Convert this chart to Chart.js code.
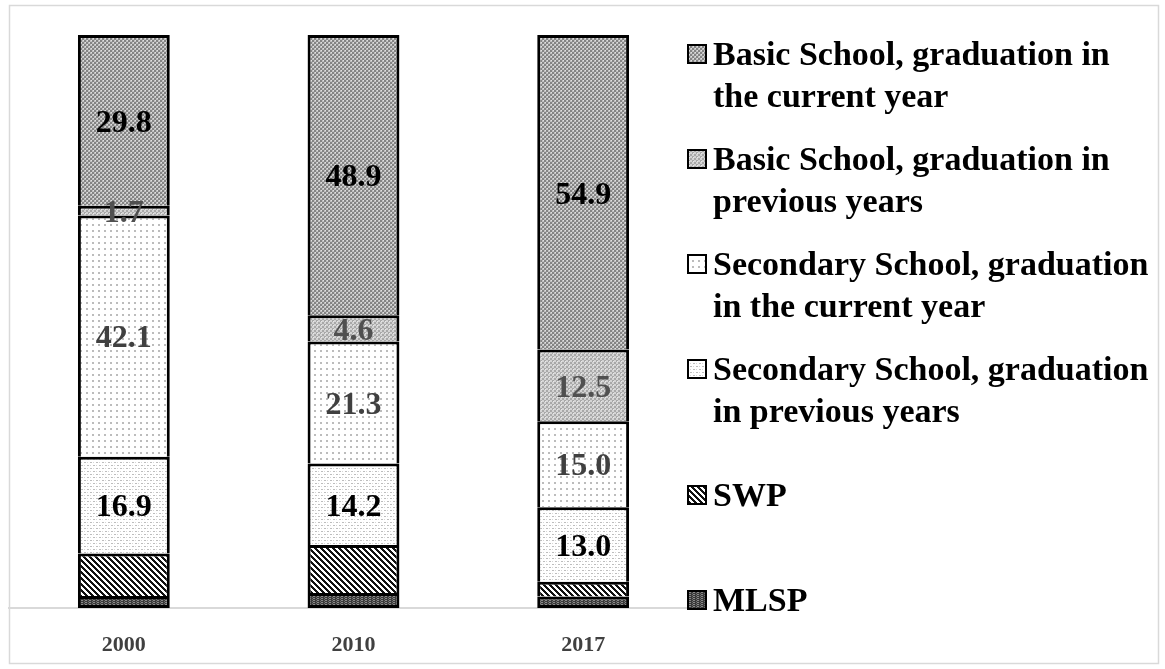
<!DOCTYPE html>
<html>
<head>
<meta charset="utf-8">
<script src="https://cdn.jsdelivr.net/npm/chart.js@4"></script>
<style>
  html, body { margin: 0; padding: 0; background: #fff; }
  #wrap { position: relative; width: 1165px; height: 669px; }
</style>
</head>
<body>
<div id="wrap"><canvas id="c"></canvas></div>
<script>
// ---- data ----
const years = ["2000", "2010", "2017"];
const mlsp = [2.1, 2.6, 2.0];
const swp = [7.4, 8.4, 2.6];
const secondaryPrev = [16.9, 14.2, 13.0];
const secondaryCurrent = [42.1, 21.3, 15.0];
const basicPrev = [1.7, 4.6, 12.5];
const basicCurrent = [29.8, 48.9, 54.9];
const seriesNames = [
  "MLSP",
  "SWP",
  "Secondary School, graduation in previous years",
  "Secondary School, graduation in the current year",
  "Basic School, graduation in previous years",
  "Basic School, graduation in the current year"
];
const legendLines = [
  ["MLSP"],
  ["SWP"],
  ["Secondary School, graduation", "in previous years"],
  ["Secondary School, graduation", "in the current year"],
  ["Basic School, graduation in", "previous years"],
  ["Basic School, graduation in", "the current year"]
];
const showLabel = [false, false, true, true, true, true];
const labelColors = ["#000", "#000", "#000", "#404040", "#505050", "#000"];

// ---- patterns ----
function makePattern(size, painter) {
  const c = document.createElement("canvas");
  c.width = size; c.height = size;
  const g = c.getContext("2d");
  painter(g, size);
  return document.createElement("canvas").getContext("2d").createPattern(c, "repeat");
}
function px(g, x, y, col, w = 1, h = 1) { g.fillStyle = col; g.fillRect(x, y, w, h); }

const patMLSP = makePattern(4, (g) => {
  px(g, 0, 0, "#3a3a3a", 4, 4);
  px(g, 1, 0, "#8a8a8a", 2, 1); px(g, 1, 2, "#8a8a8a", 2, 1);
  px(g, 0, 1, "#6a6a6a"); px(g, 0, 3, "#6a6a6a");
});
const patSWP = makePattern(6, (g, s) => {
  px(g, 0, 0, "#fff", s, s);
  for (let y = 0; y < s; y++) for (let x = 0; x < s; x++) {
    if ((((x - y) % s) + s) % s < 3) px(g, x, y, "#111");
  }
});
const patSecPrev = makePattern(6, (g) => {
  px(g, 0, 0, "#fff", 6, 6);
  px(g, 0, 0, "#bdbdbd", 2, 1); px(g, 3, 3, "#bdbdbd", 2, 1);
  px(g, 0, 3, "#d6d6d6"); px(g, 3, 0, "#d6d6d6");
});
const patSecCur = makePattern(6, (g) => {
  px(g, 0, 0, "#fff", 6, 6);
  px(g, 2, 2, "#bcbcbc", 2, 2);
});
const patBasicPrev = makePattern(4, (g) => {
  px(g, 0, 0, "#d4d4d4", 4, 4);
  px(g, 0, 0, "#a8a8a8", 2, 2); px(g, 2, 2, "#a8a8a8", 2, 2);
  px(g, 1, 1, "#e8e8e8");
});
const patBasicCur = makePattern(4, (g) => {
  px(g, 0, 0, "#c0c0c0", 4, 4);
  px(g, 0, 0, "#848484", 2, 2); px(g, 2, 2, "#848484", 2, 2);
  px(g, 3, 0, "#e0e0e0"); px(g, 1, 2, "#e0e0e0");
});
const fills = [patMLSP, patSWP, patSecPrev, patSecCur, patBasicPrev, patBasicCur];
const seriesData = [mlsp, swp, secondaryPrev, secondaryCurrent, basicPrev, basicCurrent];

const SERIF = "'Liberation Serif', 'Times New Roman', serif";

// ---- plugins ----
const framePlugin = {
  id: "frame",
  beforeDraw(chart) {
    const ctx = chart.ctx;
    ctx.save();
    ctx.strokeStyle = "#d9d9d9";
    ctx.lineWidth = 1.5;
    ctx.strokeRect(9.5, 5.5, 1149, 658);
    ctx.restore();
  }
};

const labelPlugin = {
  id: "barLabels",
  afterDatasetsDraw(chart) {
    const ctx = chart.ctx;
    ctx.save();
    ctx.font = "bold 32px " + SERIF;
    ctx.textAlign = "center";
    ctx.textBaseline = "middle";
    chart.data.datasets.forEach((ds, di) => {
      if (!showLabel[di]) return;
      const meta = chart.getDatasetMeta(di);
      meta.data.forEach((bar, i) => {
        const v = ds.data[i];
        const p = bar.getProps(["x", "y", "base"], true);
        ctx.fillStyle = labelColors[di];
        ctx.fillText(v.toFixed(1), p.x, (p.y + p.base) / 2 + 3);
      });
    });
    ctx.restore();
  }
};

const legendPlugin = {
  id: "customLegend",
  afterDraw(chart) {
    const ctx = chart.ctx;
    ctx.save();
    ctx.font = "bold 34px " + SERIF;
    ctx.textBaseline = "middle";
    ctx.textAlign = "left";
    const n = chart.data.datasets.length;
    const startY = 77, step = 105, lineGap = 42;
    for (let k = 0; k < n; k++) {
      const di = n - 1 - k;
      const lines = legendLines[di];
      const cy = startY + k * step;
      const firstY = cy - (lines.length - 1) * lineGap / 2;
      ctx.fillStyle = fills[di];
      ctx.fillRect(688, firstY - 11, 18, 18);
      ctx.strokeStyle = "#000";
      ctx.lineWidth = 2;
      ctx.strokeRect(688, firstY - 11, 18, 18);
      ctx.fillStyle = "#000";
      lines.forEach((t, li) => ctx.fillText(t, 713, firstY + li * lineGap));
    }
    ctx.restore();
  }
};

// ---- chart ----
new Chart(document.getElementById("c"), {
  type: "bar",
  data: {
    labels: years,
    datasets: seriesData.map((d, i) => ({
      label: seriesNames[i],
      data: d,
      backgroundColor: fills[i],
      borderColor: "#000",
      borderWidth: i === 0 ? { top: 3, left: 3, right: 3, bottom: 3 } : { top: 3, left: 3, right: 3, bottom: 0 },
      borderSkipped: false,
      categoryPercentage: 0.4,
      barPercentage: 1.0
    }))
  },
  options: {
    responsive: true,
    maintainAspectRatio: false,
    devicePixelRatio: 1,
    animation: false,
    layout: { padding: { left: 9, top: 35, right: 467, bottom: 12 } },
    plugins: { legend: { display: false }, tooltip: { enabled: false } },
    scales: {
      x: {
        stacked: true,
        grid: { display: false, drawTicks: false },
        border: { display: true, color: "#d9d9d9", width: 2 },
        ticks: { font: { family: SERIF, weight: "bold", size: 22 }, color: "#404040", padding: 24 },
        afterFit(scale) { scale.height = 49; }
      },
      y: { stacked: true, display: false, min: 0, max: 100 }
    }
  },
  plugins: [framePlugin, labelPlugin, legendPlugin]
});
</script>
</body>
</html>
